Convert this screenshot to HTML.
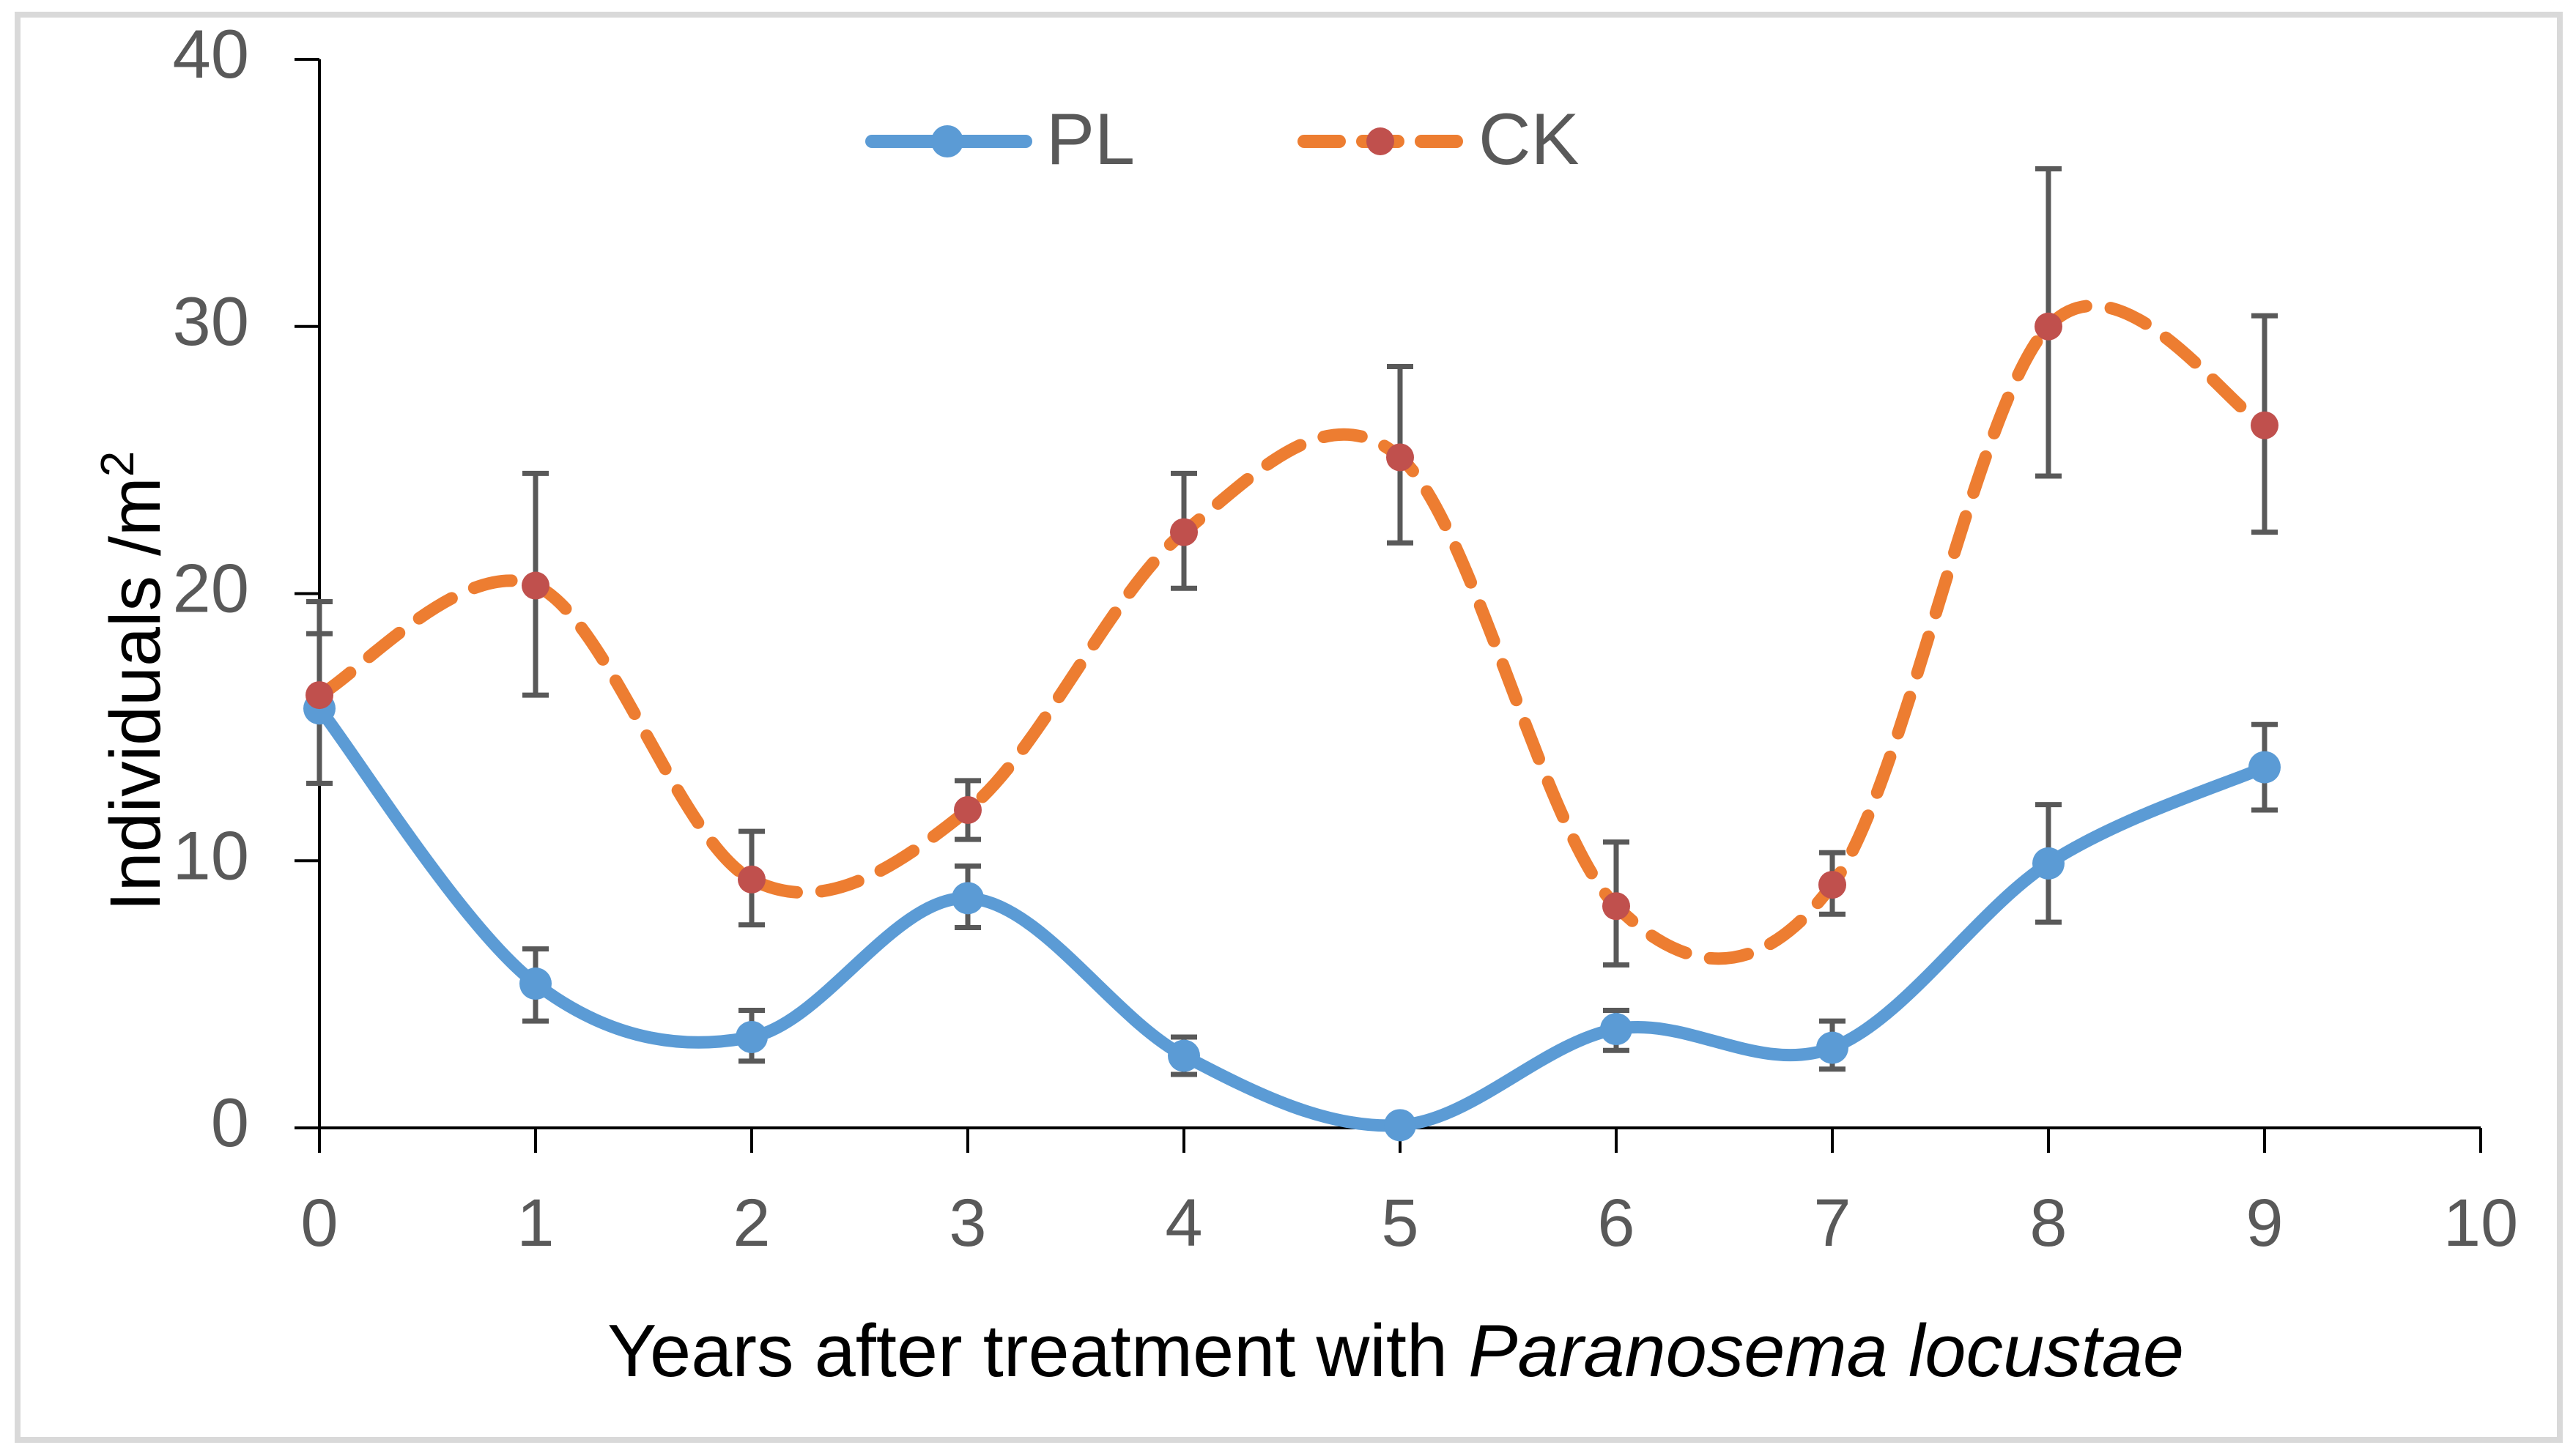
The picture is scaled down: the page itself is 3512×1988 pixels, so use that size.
<!DOCTYPE html>
<html><head><meta charset="utf-8"><style>
html,body{margin:0;padding:0;background:#fff}
svg{display:block}
text{font-family:"Liberation Sans",sans-serif}
</style></head><body>
<svg id="chart" width="3512" height="1988" viewBox="0 0 3512 1988" xmlns="http://www.w3.org/2000/svg">
<rect x="24" y="20" width="3470" height="1946" fill="#fff" stroke="#d9d9d9" stroke-width="8"/>
<g id="plot"></g>
<g>
  <g>
    <line x1="1190" y1="193" x2="1400" y2="193" stroke="#5b9bd5" stroke-width="18" stroke-linecap="round"/>
    <circle cx="1293" cy="193" r="22" fill="#5b9bd5"/>
    <text x="1428" y="224" font-size="99" fill="#595959">PL</text>
  </g>
  <g>
    <line x1="1780" y1="193" x2="1990" y2="193" stroke="#ed7d31" stroke-width="18" stroke-dasharray="48 32" stroke-linecap="round"/>
    <circle cx="1884" cy="193" r="19" fill="#c0504d"/>
    <text x="2018" y="224" font-size="99" fill="#595959">CK</text>
  </g>
</g>
<text transform="translate(218,930) rotate(-90)" text-anchor="middle" font-size="97" fill="#000">Individuals /m<tspan font-size="64" dy="-36">2</tspan></text>
<text x="1905" y="1879" text-anchor="middle" font-size="101" fill="#000">Years after treatment with <tspan font-style="italic">Paranosema locustae</tspan></text>
</svg>
<script>
const years = [0,1,2,3,4,5,6,7,8,9];
const plValues = [15.7,5.4,3.4,8.6,2.7,0.1,3.7,3.0,9.9,13.5];
const plUpper = [18.5,6.7,4.4,9.8,3.4,0.1,4.4,4.0,12.1,15.1];
const plLower = [12.9,4.0,2.5,7.5,2.0,0.1,2.9,2.2,7.7,11.9];
const ckValues = [16.2,20.3,9.3,11.9,22.3,25.1,8.3,9.1,30.0,26.3];
const ckUpper = [19.7,24.5,11.1,13.0,24.5,28.5,10.7,10.3,35.9,30.4];
const ckLower = [16.2,16.2,7.6,10.8,20.2,21.9,6.1,8.0,24.4,22.3];
const yTicks = [0,10,20,30,40];
const xTicks = [0,1,2,3,4,5,6,7,8,9,10];

const NS='http://www.w3.org/2000/svg';
const X0=436, X1=3386, Y0=1540, Y1=81;
function xs(v){return X0+(X1-X0)*v/10;}
function ys(v){return Y0-(Y0-Y1)*v/40;}
const plot=document.getElementById('plot');
function mk(tag,attrs,parent){const e=document.createElementNS(NS,tag);for(const k in attrs)e.setAttribute(k,attrs[k]);(parent||plot).appendChild(e);return e;}

const ya=mk('line',{x1:X0,y1:Y1,x2:X0,y2:Y0,stroke:'#000','stroke-width':4});


const xa=mk('line',{x1:X0-34,y1:Y0,x2:X1,y2:Y0,stroke:'#000','stroke-width':4});


yTicks.forEach(t=>{
  const y=ys(t);
  const l=mk('line',{x1:X0-34,y1:y,x2:X0,y2:y,stroke:'#000','stroke-width':4});
  
  
  const tx=mk('text',{x:340,y:y+25,'text-anchor':'end','font-size':94,fill:'#595959'});
  tx.textContent=t;
  
  
});
xTicks.forEach(t=>{
  const x=xs(t);
  const l=mk('line',{x1:x,y1:Y0,x2:x,y2:Y0+34,stroke:'#000','stroke-width':4});
  
  
  const tx=mk('text',{x:x,y:1701,'text-anchor':'middle','font-size':92,fill:'#595959'});
  tx.textContent=t;
  
  
});

function smooth(vals){
  const p=vals.map((v,i)=>[xs(years[i]),ys(v)]);
  let d='M'+p[0][0]+','+p[0][1];
  for(let i=0;i<p.length-1;i++){
    const a=p[Math.max(i-1,0)],b=p[i],c=p[i+1],e=p[Math.min(i+2,p.length-1)];
    const c1=[b[0]+(c[0]-a[0])/6,b[1]+(c[1]-a[1])/6];
    const c2=[c[0]-(e[0]-b[0])/6,c[1]-(e[1]-b[1])/6];
    d+=' C'+c1+' '+c2+' '+c;
  }
  return d;
}
function errs(vals,up,lo,name){
  vals.forEach((v,i)=>{
    if(up[i]-lo[i]<0.05)return;
    const x=xs(years[i]);
    const g=mk('g',{stroke:'#595959','stroke-width':7});
    
    
    mk('line',{x1:x,y1:ys(up[i]),x2:x,y2:ys(lo[i])},g);
    mk('line',{x1:x-18,y1:ys(up[i]),x2:x+18,y2:ys(up[i])},g);
    mk('line',{x1:x-18,y1:ys(lo[i]),x2:x+18,y2:ys(lo[i])},g);
  });
}
errs(plValues,plUpper,plLower,'pl');
errs(ckValues,ckUpper,ckLower,'ck');

const plLine=mk('path',{d:smooth(plValues),fill:'none',stroke:'#5b9bd5','stroke-width':17,'stroke-linecap':'round'});


const ckLine=mk('path',{d:smooth(ckValues),fill:'none',stroke:'#ed7d31','stroke-width':17,'stroke-dasharray':'52 34','stroke-linecap':'round'});



plValues.forEach((v,i)=>{
  const c=mk('circle',{cx:xs(years[i]),cy:ys(v),r:22,fill:'#5b9bd5'});
  
  
});
ckValues.forEach((v,i)=>{
  const c=mk('circle',{cx:xs(years[i]),cy:ys(v),r:19,fill:'#c0504d'});
  
  
});
</script>
</body></html>
